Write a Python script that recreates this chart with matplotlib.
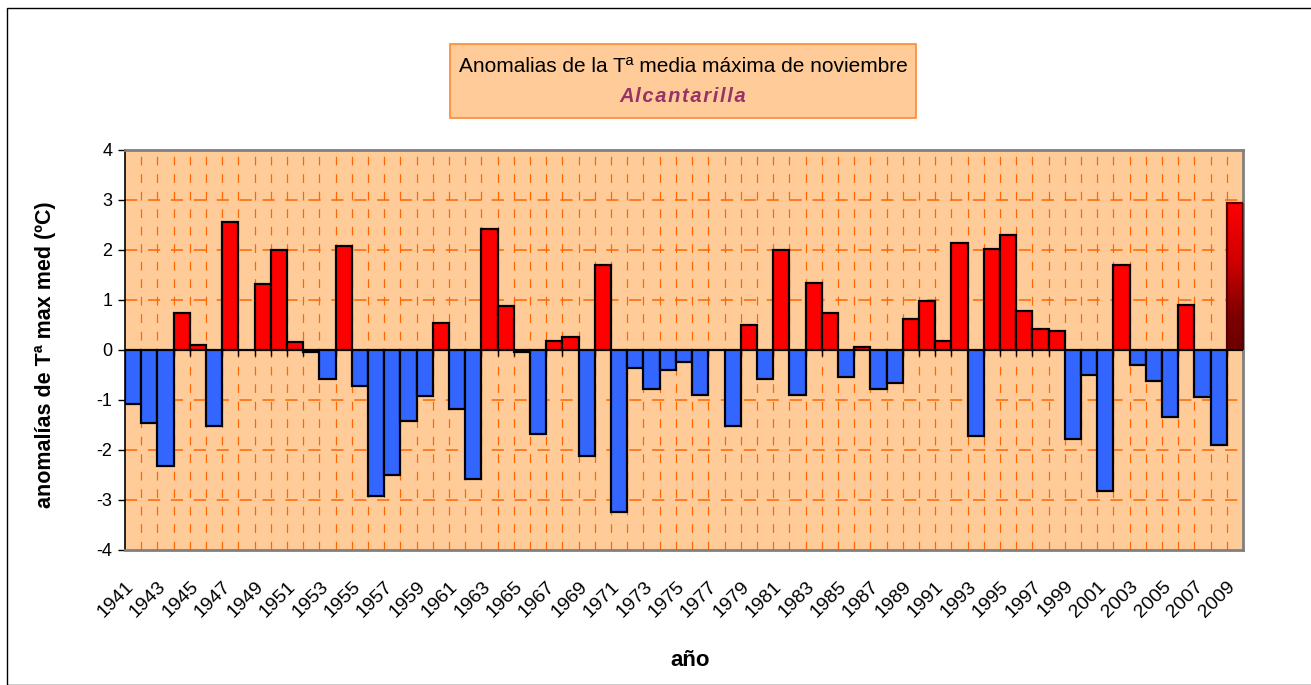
import numpy as np
import matplotlib
matplotlib.use("Agg")
import matplotlib.pyplot as plt
import matplotlib.transforms as mtransforms
from matplotlib.patches import Rectangle
from matplotlib.colors import LinearSegmentedColormap

plt.rcParams['font.family'] = ['Liberation Sans', 'DejaVu Sans']

years = list(range(1941, 2010))
anomalies = [
    -1.08, -1.45, -2.32, 0.75, 0.11, -1.52, 2.57, 0.00, 1.32, 2.00,
    0.16, -0.04, -0.57, 2.08, -0.72, -2.92, -2.49, -1.41, -0.92, 0.55,
    -1.17, -2.57, 2.43, 0.88, -0.04, -1.68, 0.19, 0.27, -2.12, 1.71,
    -3.24, -0.36, -0.77, -0.40, -0.23, -0.89, 0.00, -1.52, 0.51, -0.57,
    2.00, -0.89, 1.35, 0.75, -0.53, 0.07, -0.77, -0.65, 0.63, 0.99,
    0.19, 2.15, -1.72, 2.03, 2.31, 0.79, 0.43, 0.39, -1.77, -0.49,
    -2.81, 1.71, -0.29, -0.61, -1.33, 0.91, -0.93, -1.89, 2.95,
]
tick_labels = [str(y) if (y - 1941) % 2 == 0 else '' for y in years]

W, H = 1311, 685
fig = plt.figure(figsize=(W / 100, H / 100), dpi=100)

# outer chart border
fig.patches.append(Rectangle((7 / W, 0), 1.2, (H - 8) / H, transform=fig.transFigure,
                             fill=False, edgecolor='black', linewidth=1.0))

ax = fig.add_axes([125 / W, 1 - 550 / H, (1243 - 125) / W, (550 - 150) / H])
ax.set_facecolor('#FFCC99')

x = np.arange(len(years))
n = len(years)

# gridlines
ax.vlines(np.arange(n - 1) + 0.5, -4, 4, colors='#FF6600', linewidth=0.9,
          linestyles=(0, (7, 7)), zorder=1)
for yv in [-3, -2, -1, 1, 2, 3]:
    ax.axhline(yv, color='#FF6600', linewidth=1.1, linestyle=(0, (8, 7)), zorder=1)

# small category ticks at zero line
ax.vlines(np.arange(n + 1) - 0.5, -0.12, 0, colors='black', linewidth=1.0, zorder=2)

colors = ['#FF0000' if v >= 0 else '#3366FF' for v in anomalies]
bars = ax.bar(x, anomalies, width=1.0, color=colors, edgecolor='black',
              linewidth=1.6, zorder=3)

# gradient fill for last bar
last = bars[-1]
last.set_facecolor('none')
last.set_edgecolor('#550000')
cmap = LinearSegmentedColormap.from_list(
    'g', [(0.0, '#6A0000'), (0.25, '#800000'), (0.6, '#D00000'), (1.0, '#FF0000')])
grad = np.linspace(0, 1, 256).reshape(-1, 1)
im = ax.imshow(grad, extent=[x[-1] - 0.5, x[-1] + 0.5, 0, anomalies[-1]], origin='lower',
               cmap=cmap, aspect='auto', zorder=2.9)
im.set_clip_path(last)

ax.axhline(0, color='black', linewidth=1.2, zorder=4)

ax.set_xlim(-0.5, n - 0.5)
ax.set_ylim(-4, 4)
ax.set_yticks(range(-4, 5))
ax.set_yticklabels([str(v) for v in range(-4, 5)], fontsize=13)
ax.tick_params(axis='y', direction='out', length=5, width=1, color='black', pad=4)

ax.set_xticks(x)
ax.set_xticklabels(tick_labels, rotation=45, ha='right', va='top', rotation_mode='anchor',
                   fontsize=14)
ax.tick_params(axis='x', length=0, pad=20)
shift = mtransforms.ScaledTranslation(-8 / 100, 0, fig.dpi_scale_trans)
for lbl in ax.get_xticklabels():
    lbl.set_transform(lbl.get_transform() + shift)

for s in ['top', 'right', 'bottom']:
    ax.spines[s].set_color('#808080')
    ax.spines[s].set_linewidth(2)
ax.spines['left'].set_color('black')
ax.spines['left'].set_linewidth(1.2)

fig.text(46 / W, 1 - 355 / H, 'anomalías de Tª max med (ºC)', rotation=90, ha='center',
         va='center', fontsize=15.5, fontweight='bold')
fig.text(690 / W, 1 - 661 / H, 'año', ha='center', va='center', fontsize=16, fontweight='bold')

# title box
fig.patches.append(Rectangle((450 / W, 1 - 118 / H), (916 - 450) / W, (118 - 44) / H,
                             transform=fig.transFigure, facecolor='#FFCC99',
                             edgecolor='#FF8833', linewidth=1.2, zorder=5))
fig.text(683 / W, 1 - 66 / H, 'Anomalias de la Tª media máxima de noviembre', ha='center',
         va='center', fontsize=15, zorder=6)
fig.text(683 / W, 1 - 97 / H, 'A l c a n t a r i l l a'.replace(' ', '\u200a'), ha='center',
         va='center', fontsize=14.5, fontweight='bold', fontstyle='italic', color='#993366', zorder=6)

fig.savefig('out.png', dpi=100)
